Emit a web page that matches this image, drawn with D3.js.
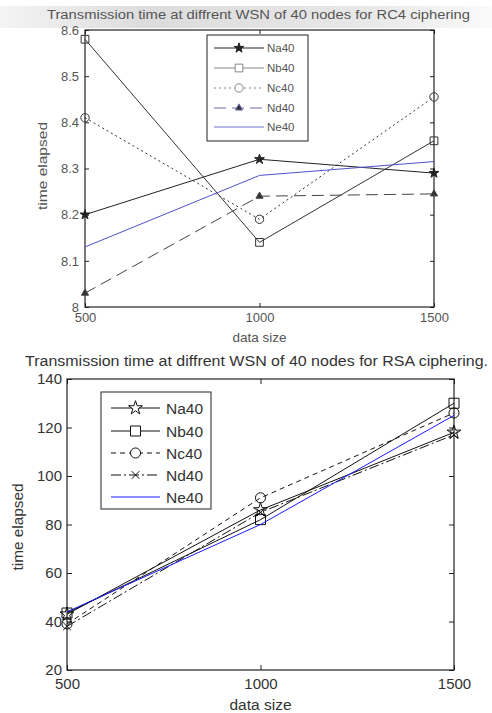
<!DOCTYPE html>
<html lang="en">
<head>
    <meta charset="UTF-8">
    <script src="https://cdnjs.cloudflare.com/ajax/libs/d3/7.9.0/d3.min.js"></script>
    <title>Transmission time</title>
    <style>
        body { margin: 0; background: #fff; font-family: Arial, "Liberation Sans", sans-serif; }
        svg { display: block; }
    </style>
</head>
<body>
<script>
    // data sizes on the x axis
    const dataSizes = [500, 1000, 1500];
    const seriesNames = ["Na40", "Nb40", "Nc40", "Nd40", "Ne40"];

    // RC4 ciphering, time elapsed
    const rc4Na40 = [8.20, 8.32, 8.29];
    const rc4Nb40 = [8.58, 8.14, 8.36];
    const rc4Nc40 = [8.41, 8.19, 8.455];
    const rc4Nd40 = [8.03, 8.24, 8.245];
    const rc4Ne40 = [8.13, 8.285, 8.315];
    const rc4YTicks = [8, 8.1, 8.2, 8.3, 8.4, 8.5, 8.6];

    // RSA ciphering, time elapsed
    const rsaNa40 = [43, 86, 118];
    const rsaNb40 = [43.5, 82, 130];
    const rsaNc40 = [39, 91, 126];
    const rsaNd40 = [38, 85, 117];
    const rsaNe40 = [44, 80, 125];
    const rsaYTicks = [20, 40, 60, 80, 100, 120, 140];

    const width = 492, height = 713;

    const svg = d3.select("body").append("svg")
        .attr("width", width)
        .attr("height", height);

    // grey scan band behind the first title
    const grad = svg.append("defs").append("linearGradient")
        .attr("id", "band").attr("x1", 0).attr("x2", 1);
    grad.append("stop").attr("offset", 0).attr("stop-color", "#f4f4f4");
    grad.append("stop").attr("offset", 0.3).attr("stop-color", "#dcdcdc");
    grad.append("stop").attr("offset", 0.75).attr("stop-color", "#e8e8e8");
    grad.append("stop").attr("offset", 1).attr("stop-color", "#fafafa");
    svg.append("rect").attr("x", 0).attr("y", 6).attr("width", width).attr("height", 22)
        .attr("fill", "url(#band)");

    function drawChart(cfg) {
        const x = d3.scaleLinear().domain([500, 1500]).range([cfg.left, cfg.right]);
        const y = d3.scaleLinear().domain(cfg.yDomain).range([cfg.bottom, cfg.top]);
        const g = svg.append("g");

        // inner ticks on all four sides
        const axes = [
            [d3.axisBottom(x).tickValues(dataSizes).tickFormat(d3.format("d")), `translate(0,${cfg.bottom})`, cfg.xPad],
            [d3.axisTop(x).tickValues(dataSizes).tickFormat(""), `translate(0,${cfg.top})`, 3],
            [d3.axisLeft(y).tickValues(cfg.yTicks).tickFormat(cfg.yFormat), `translate(${cfg.left},0)`, cfg.yPad],
            [d3.axisRight(y).tickValues(cfg.yTicks).tickFormat(""), `translate(${cfg.right},0)`, 3]
        ];
        axes.forEach(([axis, tr, pad]) => {
            const a = g.append("g").attr("transform", tr)
                .call(axis.tickSizeInner(-cfg.tick).tickSizeOuter(0).tickPadding(pad));
            a.select(".domain").remove();
            a.selectAll("line").attr("stroke", "#222");
            a.selectAll("text")
                .attr("font-family", "Arial, 'Liberation Sans', sans-serif")
                .attr("font-size", cfg.tickFont)
                .attr("fill", cfg.textColor);
        });

        g.append("rect")
            .attr("x", cfg.left).attr("y", cfg.top)
            .attr("width", cfg.right - cfg.left).attr("height", cfg.bottom - cfg.top)
            .attr("fill", "none").attr("stroke", "#222").attr("stroke-width", 1.2);

        const line = d3.line().x((d, i) => x(dataSizes[i])).y(d => y(d));

        cfg.series.forEach(s => {
            g.append("path")
                .datum(s.values)
                .attr("d", line)
                .attr("fill", "none")
                .attr("stroke", s.color)
                .attr("stroke-width", s.width || 1)
                .attr("stroke-dasharray", s.dash || null);
            if (s.symbol) {
                g.selectAll(null).data(s.values).enter().append("path")
                    .attr("d", d3.symbol().type(s.symbol).size(s.size))
                    .attr("transform", (d, i) => `translate(${x(dataSizes[i])},${y(d)})`)
                    .attr("fill", s.fill || "none")
                    .attr("stroke", s.color)
                    .attr("stroke-width", 1);
            }
        });

        // legend
        const lg = cfg.legend;
        g.append("rect")
            .attr("x", lg.x0).attr("y", lg.y0)
            .attr("width", lg.x1 - lg.x0).attr("height", lg.y1 - lg.y0)
            .attr("fill", "#fff").attr("stroke", "#222");
        cfg.series.forEach((s, i) => {
            const yy = lg.rows[i];
            g.append("line")
                .attr("x1", lg.lineX0).attr("x2", lg.lineX1)
                .attr("y1", yy).attr("y2", yy)
                .attr("stroke", s.legendColor || s.color)
                .attr("stroke-width", s.width || 1)
                .attr("stroke-dasharray", s.dash || null);
            if (s.symbol) {
                g.append("path")
                    .attr("d", d3.symbol().type(s.symbol).size(s.size))
                    .attr("transform", `translate(${(lg.lineX0 + lg.lineX1) / 2},${yy})`)
                    .attr("fill", s.fill ? s.fill : "#fff")
                    .attr("stroke", s.legendColor || s.color);
            }
            g.append("text")
                .attr("x", lg.textX).attr("y", yy)
                .attr("dy", "0.36em")
                .attr("font-size", lg.font)
                .attr("fill", cfg.textColor)
                .text(seriesNames[i]);
        });

        // titles
        g.append("text")
            .attr("x", cfg.title.x).attr("y", cfg.title.y)
            .attr("font-size", cfg.title.font)
            .attr("fill", cfg.textColor)
            .attr("textLength", cfg.title.len)
            .attr("lengthAdjust", "spacingAndGlyphs")
            .text(cfg.title.text);
        g.append("text")
            .attr("x", (cfg.left + cfg.right) / 2).attr("y", cfg.xLabelY)
            .attr("text-anchor", "middle")
            .attr("font-size", cfg.labelFont)
            .attr("fill", cfg.textColor)
            .text("data size");
        g.append("text")
            .attr("transform", `translate(${cfg.yLabelX},${cfg.yLabelY}) rotate(-90)`)
            .attr("text-anchor", "middle")
            .attr("font-size", cfg.labelFont)
            .attr("fill", cfg.textColor)
            .attr("textLength", cfg.yLabelLen)
            .attr("lengthAdjust", "spacingAndGlyphs")
            .text("time elapsed");
    }

    drawChart({
        left: 85, right: 434, top: 30, bottom: 307,
        yDomain: [8, 8.6], yTicks: rc4YTicks,
        yFormat: d => d === 8 ? "8" : d.toFixed(1),
        tick: 4, xPad: 6, yPad: 6, tickFont: 13, labelFont: 13.5, textColor: "#555",
        title: { x: 47, y: 19, font: 12, len: 423,
            text: "Transmission time at diffrent WSN of 40 nodes for RC4 ciphering" },
        xLabelY: 342, yLabelX: 47, yLabelY: 166, yLabelLen: 88,
        legend: { x0: 207, x1: 308, y0: 35, y1: 141, rows: [48, 68, 88, 108, 127],
            lineX0: 214, lineX1: 264, textX: 267, font: 11.5 },
        series: [
            { values: rc4Na40, color: "#222", symbol: d3.symbolStar, size: 30, fill: "#222" },
            { values: rc4Nb40, color: "#333", legendColor: "#888", symbol: d3.symbolSquare, size: 60 },
            { values: rc4Nc40, color: "#333", legendColor: "#888", dash: "2,3", symbol: d3.symbolCircle, size: 55 },
            { values: rc4Nd40, color: "#444", legendColor: "#6a6aa8", dash: "12,6", symbol: d3.symbolTriangle, size: 22, fill: "#333" },
            { values: rc4Ne40, color: "#5050c8", legendColor: "#7070d0" }
        ]
    });

    drawChart({
        left: 67, right: 454, top: 379, bottom: 670,
        yDomain: [20, 140], yTicks: rsaYTicks,
        yFormat: d3.format("d"),
        tick: 5, xPad: 8, yPad: 5, tickFont: 15, labelFont: 15.5, textColor: "#333",
        title: { x: 25, y: 366, font: 14, len: 463,
            text: "Transmission time at diffrent WSN of 40 nodes for RSA ciphering." },
        xLabelY: 710, yLabelX: 23, yLabelY: 527, yLabelLen: 87,
        legend: { x0: 101, x1: 211, y0: 392, y1: 509, rows: [408, 431, 453, 475, 497],
            lineX0: 111, lineX1: 160, textX: 166, font: 15.5 },
        series: [
            { values: rsaNa40, color: "#111", symbol: d3.symbolStar, size: 60 },
            { values: rsaNb40, color: "#111", symbol: d3.symbolSquare, size: 100 },
            { values: rsaNc40, color: "#111", dash: "5,4", symbol: d3.symbolCircle, size: 80 },
            { values: rsaNd40, color: "#111", dash: "10,3,2,3", symbol: d3.symbolTimes, size: 40 },
            { values: rsaNe40, color: "#1a1aff" }
        ]
    });
</script>
</body>
</html>
